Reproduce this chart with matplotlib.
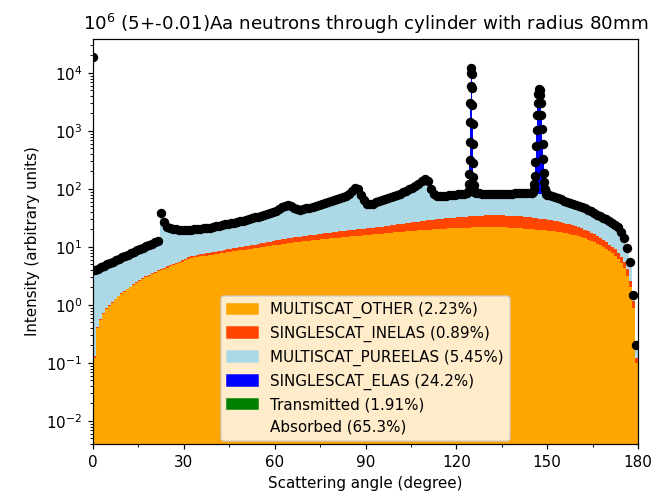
import matplotlib
matplotlib.use("Agg")
import matplotlib.pyplot as plt
from matplotlib.patches import Patch
from matplotlib.ticker import MultipleLocator
import numpy as np

# 1 degree bins, bin k covers [k, k+1]
# top of MULTISCAT_OTHER (orange)
other_top = [
    0.12, 0.4, 0.55, 0.7, 0.85, 0.95, 1.1, 1.25, 1.4, 1.55,
    1.7, 1.85, 2.0, 2.2, 2.4, 2.6, 2.8, 3.0, 3.2, 3.4,
    3.6, 3.8, 4.0, 4.2, 4.4, 4.6, 4.8, 5.0, 5.3, 5.6,
    5.9, 6.2, 6.5, 6.6, 6.7, 6.9, 7.0, 7.1, 7.3, 7.4,
    7.5, 7.7, 7.8, 7.9, 8.1, 8.2, 8.4, 8.5, 8.7, 8.8,
    9.0, 9.1, 9.3, 9.5, 9.6, 9.8, 10.0, 10.2, 10.4, 10.6,
    10.8, 11.0, 11.2, 11.4, 11.6, 11.8, 12.0, 12.2, 12.3, 12.5,
    12.7, 12.9, 13.0, 13.2, 13.4, 13.5, 13.7, 13.9, 14.0, 14.2,
    14.4, 14.5, 14.7, 14.9, 15.0, 15.2, 15.4, 15.5, 15.7, 15.9,
    16.0, 16.2, 16.4, 16.6, 16.8, 17.0, 17.2, 17.4, 17.6, 17.8,
    18.0, 18.2, 18.3, 18.5, 18.7, 18.8, 19.0, 19.2, 19.3, 19.5,
    19.7, 19.8, 20.0, 20.2, 20.3, 20.5, 20.6, 20.8, 20.9, 21.0,
    21.2, 21.3, 21.4, 21.5, 21.6, 21.7, 21.8, 21.8, 21.9, 21.9,
    22.0, 22.0, 22.0, 21.9, 21.9, 21.8, 21.7, 21.6, 21.5, 21.3,
    21.1, 20.9, 20.7, 20.5, 20.3, 20.1, 19.9, 19.7, 19.5, 19.3,
    19.1, 18.9, 18.6, 18.3, 18.0, 17.6, 17.2, 16.8, 16.3, 15.8,
    15.3, 14.7, 14.1, 13.4, 12.7, 12.0, 11.3, 10.6, 9.9, 9.2,
    8.5, 7.8, 7.0, 6.2, 5.3, 4.3, 3.2, 2.0, 0.9, 0.1,
]
# top of SINGLESCAT_INELAS (stacked on orange)
inelas_top = [
    0.13, 0.42, 0.57, 0.72, 0.88, 0.98, 1.13, 1.29, 1.44, 1.6,
    1.75, 1.9, 2.07, 2.27, 2.48, 2.69, 2.9, 3.1, 3.3, 3.5,
    3.75, 3.95, 4.17, 4.38, 4.6, 4.8, 5.05, 5.25, 5.6, 5.9,
    6.3, 6.65, 7.0, 7.1, 7.25, 7.5, 7.6, 7.75, 8.0, 8.15,
    8.3, 8.5, 8.65, 8.8, 9.1, 9.2, 9.5, 9.6, 9.9, 10.0,
    10.3, 10.5, 10.7, 11.0, 11.2, 11.5, 11.8, 12.1, 12.3, 12.6,
    13.0, 13.2, 13.5, 13.8, 14.1, 14.4, 14.7, 15.0, 15.1, 15.4,
    15.6, 15.9, 16.1, 16.3, 16.6, 16.8, 17.1, 17.4, 17.6, 17.9,
    18.3, 18.5, 18.8, 19.1, 19.3, 19.6, 19.9, 20.1, 20.4, 20.7,
    20.9, 21.2, 21.5, 21.8, 22.1, 22.4, 22.8, 23.2, 23.6, 24.0,
    24.5, 24.9, 25.2, 25.6, 26.0, 26.4, 26.9, 27.4, 27.8, 28.3,
    28.6, 29.0, 29.4, 29.8, 30.3, 30.7, 31.1, 31.5, 31.9, 32.1,
    32.4, 32.8, 33.1, 33.4, 33.7, 34.0, 34.3, 34.6, 34.8, 35.0,
    35.2, 35.2, 35.2, 35.1, 35.0, 34.9, 34.8, 34.6, 34.4, 34.1,
    33.8, 33.5, 33.1, 32.7, 32.3, 31.8, 31.4, 30.9, 30.4, 29.9,
    29.4, 28.9, 28.3, 27.6, 26.9, 26.1, 25.3, 24.5, 23.6, 22.7,
    21.8, 20.8, 19.8, 18.7, 17.6, 16.5, 15.3, 14.1, 13.0, 12.0,
    11.0, 10.1, 9.1, 8.0, 6.8, 5.5, 4.1, 2.6, 1.15, 0.12,
]
# top of MULTISCAT_PUREELAS = total without the Bragg peaks
pureelas_top = [
    4.0, 4.2, 4.5, 4.7, 5.0, 5.3, 5.6, 5.9, 6.2, 6.6,
    7.0, 7.3, 7.8, 8.2, 8.7, 9.2, 9.7, 10.2, 10.8, 11.4,
    12.1, 12.8, 38, 27, 22.5, 21, 20.5, 20, 19.8, 19.6,
    19.6, 19.7, 19.9, 20.1, 20.3, 20.5, 20.8, 21.1, 21.5, 22.0,
    22.6, 23.2, 23.8, 24.4, 25.0, 25.6, 26.2, 26.8, 27.5, 28.3,
    29.2, 30.2, 31.2, 32.3, 33.4, 34.6, 35.8, 37.0, 38.3, 40.0,
    42, 45, 48, 51, 53, 50, 47, 45, 44, 45,
    46, 47, 49, 51, 53, 55, 57, 59, 62, 64,
    67, 70, 73, 77, 82, 92, 105, 100, 80, 64,
    55, 54, 56, 59, 62, 65, 67, 70, 73, 76,
    79, 83, 87, 92, 98, 105, 113, 123, 135, 148,
    135, 100, 82, 76, 75, 76, 77, 78, 79, 80,
    81, 82, 83, 84, 85, 85, 84, 84, 83, 83,
    83, 83, 83, 83, 83, 83, 83, 83, 83, 84,
    84, 84, 84, 84, 84, 84, 83, 82, 81, 80,
    80, 77, 74, 70, 66, 63, 60, 58, 56, 53,
    51, 49, 46, 44, 41, 39, 36, 34, 32, 30,
    28, 26, 24, 22, 18, 14, 9.5, 5.5, 1.5, 0.2,
]

# SINGLESCAT_ELAS peaks, total intensity in fine bins
peak1_start, peak1_width = 124.0, 0.1
peak1_total = [95, 120, 180, 320, 650, 1400, 3000, 6000, 10000, 12000,
               9500, 5500, 2800, 1300, 600, 280, 160, 115, 95, 88]
peak2_start, peak2_width = 145.0, 0.2
peak2_total = [86, 90, 98, 120, 170, 290, 550, 1050, 1900, 3000,
               4300, 5300, 5100, 4200, 3000, 1900, 1100, 600, 330, 190,
               130, 100, 88, 83, 80]

# transmitted neutrons end up in the first (very narrow) bin
transmitted_edges = [0.0, 0.2]
transmitted_value = 1.9e4

labels = [
    "MULTISCAT_OTHER (2.23%)",
    "SINGLESCAT_INELAS (0.89%)",
    "MULTISCAT_PUREELAS (5.45%)",
    "SINGLESCAT_ELAS (24.2%)",
    "Transmitted (1.91%)",
    "Absorbed (65.3%)",
]
colors = ["orange", "orangered", "lightblue", "blue", "green"]


def ext(v):
    v = np.asarray(v, dtype=float)
    return np.append(v, v[-1])


def main() -> None:
    edges = np.arange(0, 181)
    centers = edges[:-1] + 0.5
    floor = 1e-6

    fig = plt.figure(figsize=(6.0, 4.516), dpi=109.17)
    ax = fig.add_axes([0.142, 0.0994, 0.832, 0.8215])
    ax.set_yscale("log")

    ax.fill_between(edges, floor, ext(other_top), step="post", color=colors[0], lw=0)
    ax.fill_between(edges, ext(other_top), ext(inelas_top), step="post", color=colors[1], lw=0)
    ax.fill_between(edges, ext(inelas_top), ext(pureelas_top), step="post", color=colors[2], lw=0)

    base = np.asarray(pureelas_top, dtype=float)
    dots_x, dots_y = [np.mean(transmitted_edges)], [transmitted_value]
    skip = np.zeros(len(centers), dtype=bool)
    for start, width, tot in [(peak1_start, peak1_width, peak1_total),
                              (peak2_start, peak2_width, peak2_total)]:
        fe = start + width * np.arange(len(tot) + 1)
        fc = fe[:-1] + width / 2
        fb = base[np.floor(fc).astype(int)]
        ax.fill_between(fe, ext(fb), ext(tot), step="post", color=colors[3], lw=0)
        dots_x += list(fc)
        dots_y += list(tot)
        skip[int(start):int(np.ceil(fe[-1]))] = True

    ax.fill_between(transmitted_edges, floor, transmitted_value, step="post", color=colors[4], lw=0)

    dots_x += list(centers[~skip])
    dots_y += list(base[~skip])
    ax.plot(dots_x, dots_y, "o", color="black", markersize=5.2, zorder=5)

    ax.set_xlim(0, 180)
    ax.set_ylim(4.0e-3, 3.85e4)
    ax.xaxis.set_major_locator(MultipleLocator(30))
    ax.xaxis.set_minor_locator(MultipleLocator(15))
    ax.set_xlabel("Scattering angle (degree)")
    ax.set_ylabel("Intensity (arbitrary units)")
    ax.set_title("$10^6$ (5+-0.01)Aa neutrons through cylinder with radius 80mm")

    handles = [Patch(color=c) for c in colors]
    handles.append(Patch(color="none"))
    ax.legend(handles, labels, loc="lower center", borderaxespad=0.2)

    fig.savefig("out.png", dpi=109.17)
    plt.close(fig)


if __name__ == "__main__":
    main()
